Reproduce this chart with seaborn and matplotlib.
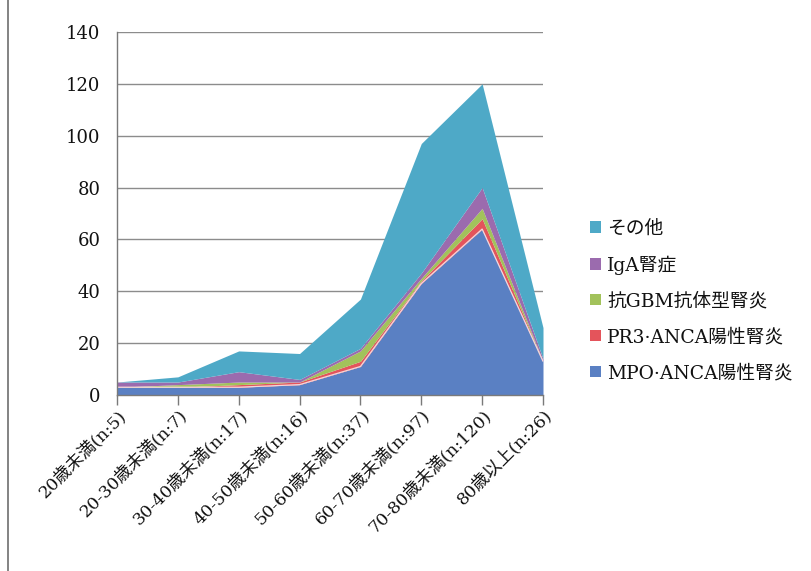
import numpy as np
import pandas as pd
import matplotlib
matplotlib.use("Agg")
import matplotlib.pyplot as plt
from matplotlib.patches import Patch
from matplotlib.lines import Line2D
import seaborn as sns

# Age groups (with case counts) on the category axis
age_groups = ["20歳未満(n:5)", "20-30歳未満(n:7)", "30-40歳未満(n:17)", "40-50歳未満(n:16)",
              "50-60歳未満(n:37)", "60-70歳未満(n:97)", "70-80歳未満(n:120)", "80歳以上(n:26)"]

# Cases per diagnosis in each age group (stacked bottom to top)
mpo_anca = [3, 3, 3, 4, 11, 43, 64, 13]
pr3_anca = [0, 0, 1, 1, 2, 1, 4, 0]
anti_gbm = [0, 1, 1, 0, 4, 1, 4, 0]
iga = [2, 1, 4, 1, 1, 2, 8, 1]
other = [0, 2, 8, 10, 19, 50, 40, 12]

series_names = ["MPO·ANCA陽性腎炎", "PR3·ANCA陽性腎炎", "抗GBM抗体型腎炎", "IgA腎症", "その他"]
series_values = [mpo_anca, pr3_anca, anti_gbm, iga, other]
series_colors = ["#5A80C3", "#E4545B", "#A2C25B", "#9B6BAE", "#4EA9C7"]

sns.set_theme(style="white")
plt.rcParams["font.family"] = ["DejaVu Serif", "Noto Sans CJK JP"]

df = pd.DataFrame({name: vals for name, vals in zip(series_names, series_values)})
df["x"] = np.arange(len(age_groups))
cum = df[series_names].cumsum(axis=1)

fig = plt.figure(figsize=(8.12, 5.71), dpi=100)
ax = fig.add_axes([117 / 812, 1 - 395 / 571, (543 - 117) / 812, (395 - 32) / 571])

# horizontal gridlines behind the areas
for yv in range(20, 141, 20):
    ax.axhline(yv, color="#8c8c8c", lw=1.0, zorder=0)

lower = np.zeros(len(age_groups))
for name, color in zip(series_names, series_colors):
    upper = cum[name].to_numpy(dtype=float)
    ax.fill_between(df["x"], lower, upper, color=color, lw=0, zorder=2)
    lower = upper

# light boundary along the top of the MPO area
sns.lineplot(x=df["x"], y=cum[series_names[0]], ax=ax, color="#F3D6DA", lw=0.9,
             zorder=3, legend=False)

ax.set_xlim(0, len(age_groups) - 1)
ax.set_ylim(0, 140)
ax.set_yticks(range(0, 141, 20))
ax.set_xticks(df["x"])
ax.set_xticklabels(age_groups, rotation=45, ha="right", rotation_mode="anchor",
                   fontsize=12.5, color="#111111")
ax.tick_params(axis="y", labelsize=13, length=7, width=1, color="#7a7a7a", direction="out",
               pad=5, labelcolor="#111111")
ax.tick_params(axis="x", length=7, width=1, color="#7a7a7a", direction="out", pad=1, bottom=True)
ax.set_xlabel("")
ax.set_ylabel("")

for side in ["top", "right"]:
    ax.spines[side].set_visible(False)
for side in ["left", "bottom"]:
    ax.spines[side].set_color("#7a7a7a")
    ax.spines[side].set_linewidth(1.0)
    ax.spines[side].set_zorder(4)

handles = [Patch(facecolor=c, edgecolor="none") for c in series_colors][::-1]
labels = series_names[::-1]
fig.legend(handles, labels, loc="upper left", bbox_to_anchor=(583 / 812, 1 - 212 / 571),
           frameon=False, fontsize=13.5, handlelength=0.55, handleheight=0.55,
           handletextpad=0.35, labelspacing=0.95, borderaxespad=0, labelcolor="#111111")

# outer frame line on the left of the chart area
fig.add_artist(Line2D([8 / 812, 8 / 812], [0, 1], color="#6e6e6e", lw=1.2))

fig.savefig("out.png", dpi=100, facecolor="white")
